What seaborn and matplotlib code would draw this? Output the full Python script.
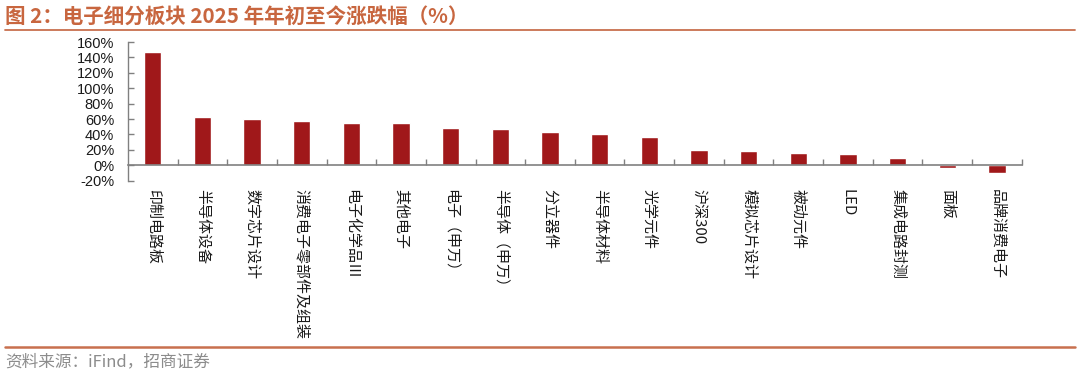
import numpy as np
import pandas as pd
import matplotlib
matplotlib.use("Agg")
import matplotlib.pyplot as plt
from matplotlib.lines import Line2D
import seaborn as sns

# data (% change since start of 2025)
sectors = ['印制电路板', '半导体设备', '数字芯片设计', '消费电子零部件及组装', '电子化学品Ⅲ',
           '其他电子', '电子（申万）', '半导体（申万）', '分立器件', '半导体材料', '光学元件',
           '沪深300', '模拟芯片设计', '被动元件', 'LED', '集成电路封测', '面板', '品牌消费电子']
changes = [147.0, 62.6, 60.0, 57.4, 55.3, 54.4, 48.8, 47.4, 43.5, 40.0, 36.1,
           19.6, 18.7, 16.2, 14.8, 9.1, -3.5, -10.0]
yticks = [-20, 0, 20, 40, 60, 80, 100, 120, 140, 160]

title = '图 2：电子细分板块 2025 年年初至今涨跌幅（%）'
source = '资料来源：iFind，招商证券'

bar_color = '#A0181A'
accent = '#C8704E'
axis_gray = '#808080'

sns.set_theme(style='white')
plt.rcParams['font.family'] = ['Noto Sans CJK SC', 'DejaVu Sans']

df = pd.DataFrame({'sector': sectors, 'change': changes})

fig = plt.figure(figsize=(10.8, 3.74), dpi=100)
ax = fig.add_axes([0.1185, 0.5168, 0.8275, 0.3709])

sns.barplot(data=df, x='sector', y='change', order=sectors, color=bar_color,
            saturation=1, width=0.35, ax=ax)

ax.set_xlim(-0.5, len(sectors) - 0.5)
ax.set_ylim(-20, 160)
ax.set_yticks(yticks)
ax.set_yticklabels([f'{v}%' for v in yticks], family=['Liberation Sans', 'DejaVu Sans'])
ax.set_xlabel('')
ax.set_ylabel('')

# axis look: left spine + zero line, ticks pointing inward
for s in ['top', 'right']:
    ax.spines[s].set_visible(False)
ax.spines['left'].set_color(axis_gray)
ax.spines['bottom'].set_color(axis_gray)
ax.spines['bottom'].set_position(('data', 0))
ax.spines['left'].set_linewidth(1)
ax.spines['bottom'].set_linewidth(1.2)

ax.tick_params(axis='y', direction='in', length=4, width=1, color=axis_gray,
               labelsize=10.5, labelcolor='#1a1a1a', pad=10, left=True)
ax.set_xticks(np.arange(len(sectors)) + 0.5, minor=True)
ax.tick_params(axis='x', which='minor', direction='in', length=4, width=1,
               color=axis_gray, bottom=True)
ax.tick_params(axis='x', which='major', length=0, pad=17, labelsize=10.8,
               labelcolor='#1a1a1a')
for lab in ax.get_xticklabels():
    lab.set_rotation(270)
    lab.set_va('top')
    lab.set_ha('center')

# header / footer decorations
fig.text(0.005, 0.957, title, fontsize=14.8, fontweight='bold', color='#C8663F',
         va='center', ha='left')
fig.add_artist(Line2D([0.005, 0.995], [0.921, 0.921], transform=fig.transFigure,
                      color=accent, lw=1.3))
fig.add_artist(Line2D([0.005, 0.995], [0.071, 0.071], transform=fig.transFigure,
                      color=accent, lw=1.8))
fig.text(0.005, 0.033, source, fontsize=12, color='#8C8C8C', va='center', ha='left')

fig.savefig('out.png', dpi=100)
